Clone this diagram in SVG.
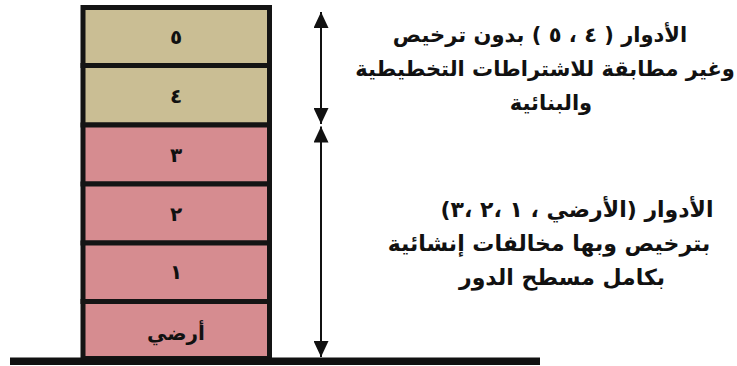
<svg xmlns="http://www.w3.org/2000/svg" width="737" height="366" viewBox="0 0 737 366">
<defs>
<style>
.f5{fill:#CABE94;stroke:#141414;stroke-width:5}
.fp{fill:#D68C90;stroke:#141414;stroke-width:5}
.lbl{font-family:"DejaVu Sans","Liberation Sans",sans-serif;font-weight:bold;font-size:20px;fill:#111;text-anchor:middle;direction:rtl}
.note{font-family:"DejaVu Sans","Liberation Sans",sans-serif;font-weight:bold;font-size:21px;fill:#111;text-anchor:middle;direction:rtl}
.note2{font-family:"DejaVu Sans","Liberation Sans",sans-serif;font-weight:bold;font-size:22px;fill:#111;text-anchor:middle;direction:rtl}
.conn{stroke:#111;stroke-width:2;fill:none}
</style>
<marker id="ah" viewBox="0 0 16 15" refX="16" refY="7.5" markerWidth="16" markerHeight="15" markerUnits="userSpaceOnUse" orient="auto">
<path d="M0,0 L16,7.5 L0,15 Z" fill="#111"/>
</marker>
</defs>
<rect width="737" height="366" fill="#fff"/>
<g id="floor5"><rect class="f5" x="83" y="7.5" width="186.5" height="58"/><text class="lbl" x="176" y="44">٥</text></g>
<g id="floor4"><rect class="f5" x="83" y="65.5" width="186.5" height="59.5"/><text class="lbl" x="176" y="103">٤</text></g>
<g id="floor3"><rect class="fp" x="83" y="125" width="186.5" height="59"/><text class="lbl" x="176" y="162">٣</text></g>
<g id="floor2"><rect class="fp" x="83" y="184" width="186.5" height="59"/><text class="lbl" x="176" y="221">٢</text></g>
<g id="floor1"><rect class="fp" x="83" y="243" width="186.5" height="58.5"/><text class="lbl" x="176" y="279">١</text></g>
<g id="ground-floor"><rect class="fp" x="83" y="301.5" width="186.5" height="57"/><text class="lbl" x="176" y="340">أرضي</text></g>
<g id="ground"><rect x="10" y="357.5" width="530" height="7.5" fill="#111"/></g>
<g id="connectors">
<line class="conn" x1="321" y1="70" x2="321" y2="12" marker-end="url(#ah)"/>
<line class="conn" x1="321" y1="70" x2="321" y2="124" marker-end="url(#ah)"/>
<line class="conn" x1="321" y1="240" x2="321" y2="126.5" marker-end="url(#ah)"/>
<line class="conn" x1="321" y1="240" x2="321" y2="357" marker-end="url(#ah)"/>
</g>
<g id="note-upper">
<text class="note" x="540" y="42">الأدوار ( ٤ ، ٥ ) بدون ترخيص</text>
<text class="note" x="545" y="76">وغير مطابقة للاشتراطات التخطيطية</text>
<text class="note" x="551" y="110">والبنائية</text>
</g>
<g id="note-lower">
<text class="note2" x="577" y="217">الأدوار (الأرضي ، ١ ،٢ ،٣)</text>
<text class="note2" x="549" y="251">بترخيص وبها مخالفات إنشائية</text>
<text class="note2" x="562" y="285">بكامل مسطح الدور</text>
</g>
</svg>
